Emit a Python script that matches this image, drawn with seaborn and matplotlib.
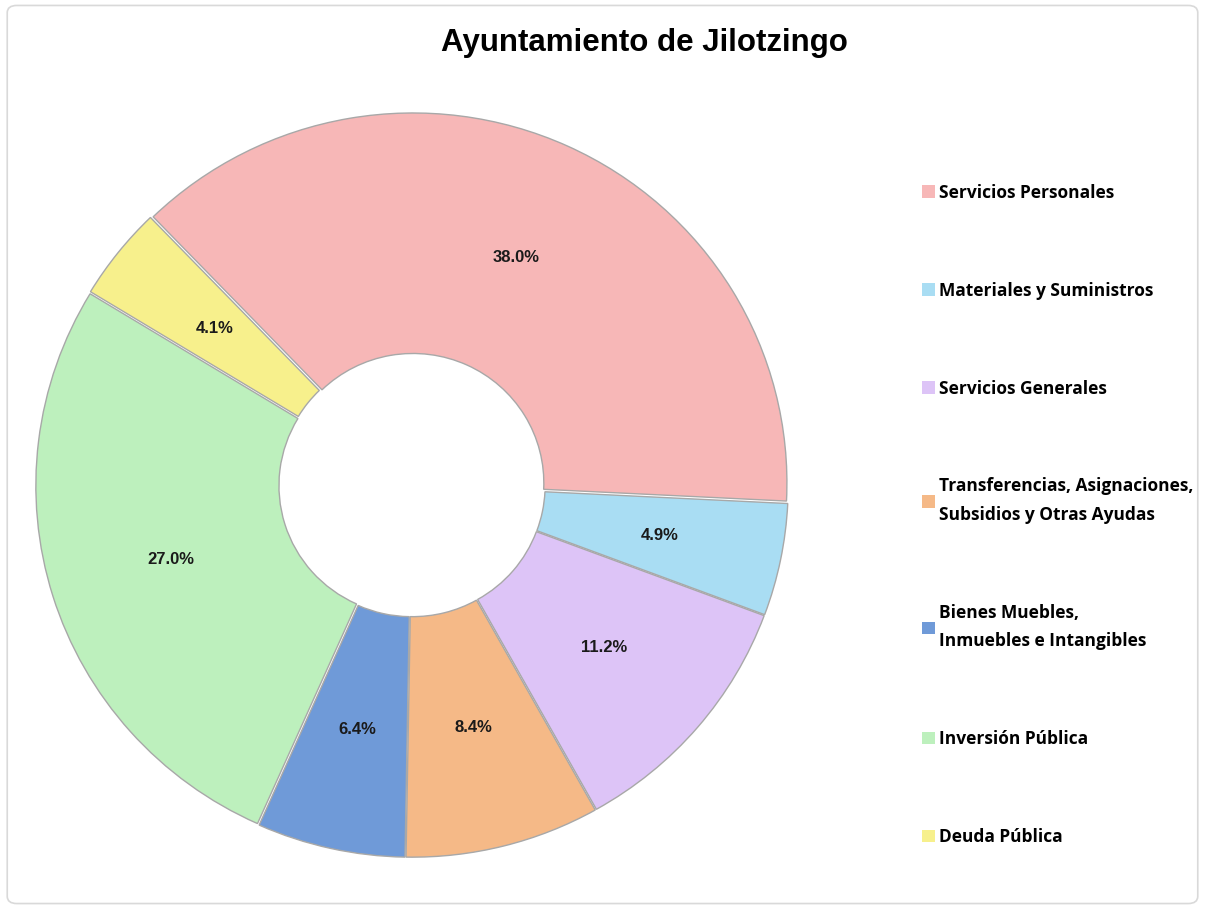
import matplotlib
matplotlib.use("Agg")
import matplotlib.pyplot as plt
import seaborn as sns
from matplotlib.patches import Patch, FancyBboxPatch

# ======================
# DATA
# ======================
capitulos = [
    "Servicios Personales",
    "Materiales y Suministros",
    "Servicios Generales",
    "Transferencias, Asignaciones,\nSubsidios y Otras Ayudas",
    "Bienes Muebles,\nInmuebles e Intangibles",
    "Inversión Pública",
    "Deuda Pública",
]
porcentajes = [38.0, 4.9, 11.2, 8.4, 6.4, 27.0, 4.1]
colores = ["#F7B7B7", "#A9DDF3", "#DDC4F7", "#F5B987", "#6F9AD8", "#BDF0BD", "#F7F08C"]

# ======================
# STYLE
# ======================
sns.set_theme(style="white")
plt.rcParams["font.family"] = ["Liberation Sans", "DejaVu Sans"]
palette = sns.color_palette(colores)

fig = plt.figure(figsize=(12.05, 9.09), dpi=100)
fig.patch.set_facecolor("white")

# light border round the whole chart area
fig.patches.append(FancyBboxPatch(
    (0.006, 0.006), 0.988, 0.988,
    boxstyle="round,pad=0,rounding_size=0.008",
    transform=fig.transFigure, facecolor="none",
    edgecolor="#d9d9d9", linewidth=1.2,
))

# axes placed so the ring sits where the reference has it
W, H = 1205, 909
cx, cy, rx, ry = 412, 485, 374, 370
lim = 1.05
ax = fig.add_axes([
    (cx - lim * rx) / W,
    (H - cy - lim * ry) / H,
    2 * lim * rx / W,
    2 * lim * ry / H,
])

wedges, texts, autotexts = ax.pie(
    porcentajes,
    colors=palette,
    startangle=134,
    counterclock=False,
    explode=[0.006] * len(porcentajes),
    autopct="%1.1f%%",
    pctdistance=0.67,
    wedgeprops=dict(width=0.65, edgecolor="#a8a8a8", linewidth=1.0),
    textprops=dict(fontsize=12, fontweight="bold", color="#1a1a1a"),
)
ax.set_aspect("auto")
ax.set_xlim(-lim, lim)
ax.set_ylim(-lim, lim)

fig.text(0.535, 0.953, "Ayuntamiento de Jilotzingo",
         ha="center", va="center", fontsize=22.5, fontweight="bold", color="black")

handles = [Patch(facecolor=c, edgecolor="none") for c in colores]
leg = fig.legend(
    handles, capitulos,
    loc="upper left", bbox_to_anchor=(0.752, 0.815),
    frameon=False,
    prop=dict(family=["Open Sans", "DejaVu Sans"], weight="bold", size=12.5),
    handlelength=0.75, handleheight=0.75, handletextpad=0.25,
    labelspacing=4.6,
)
for t in leg.get_texts():
    t.set_color("black")
    t.set_linespacing(1.75)

plt.savefig("out.png", dpi=100)
